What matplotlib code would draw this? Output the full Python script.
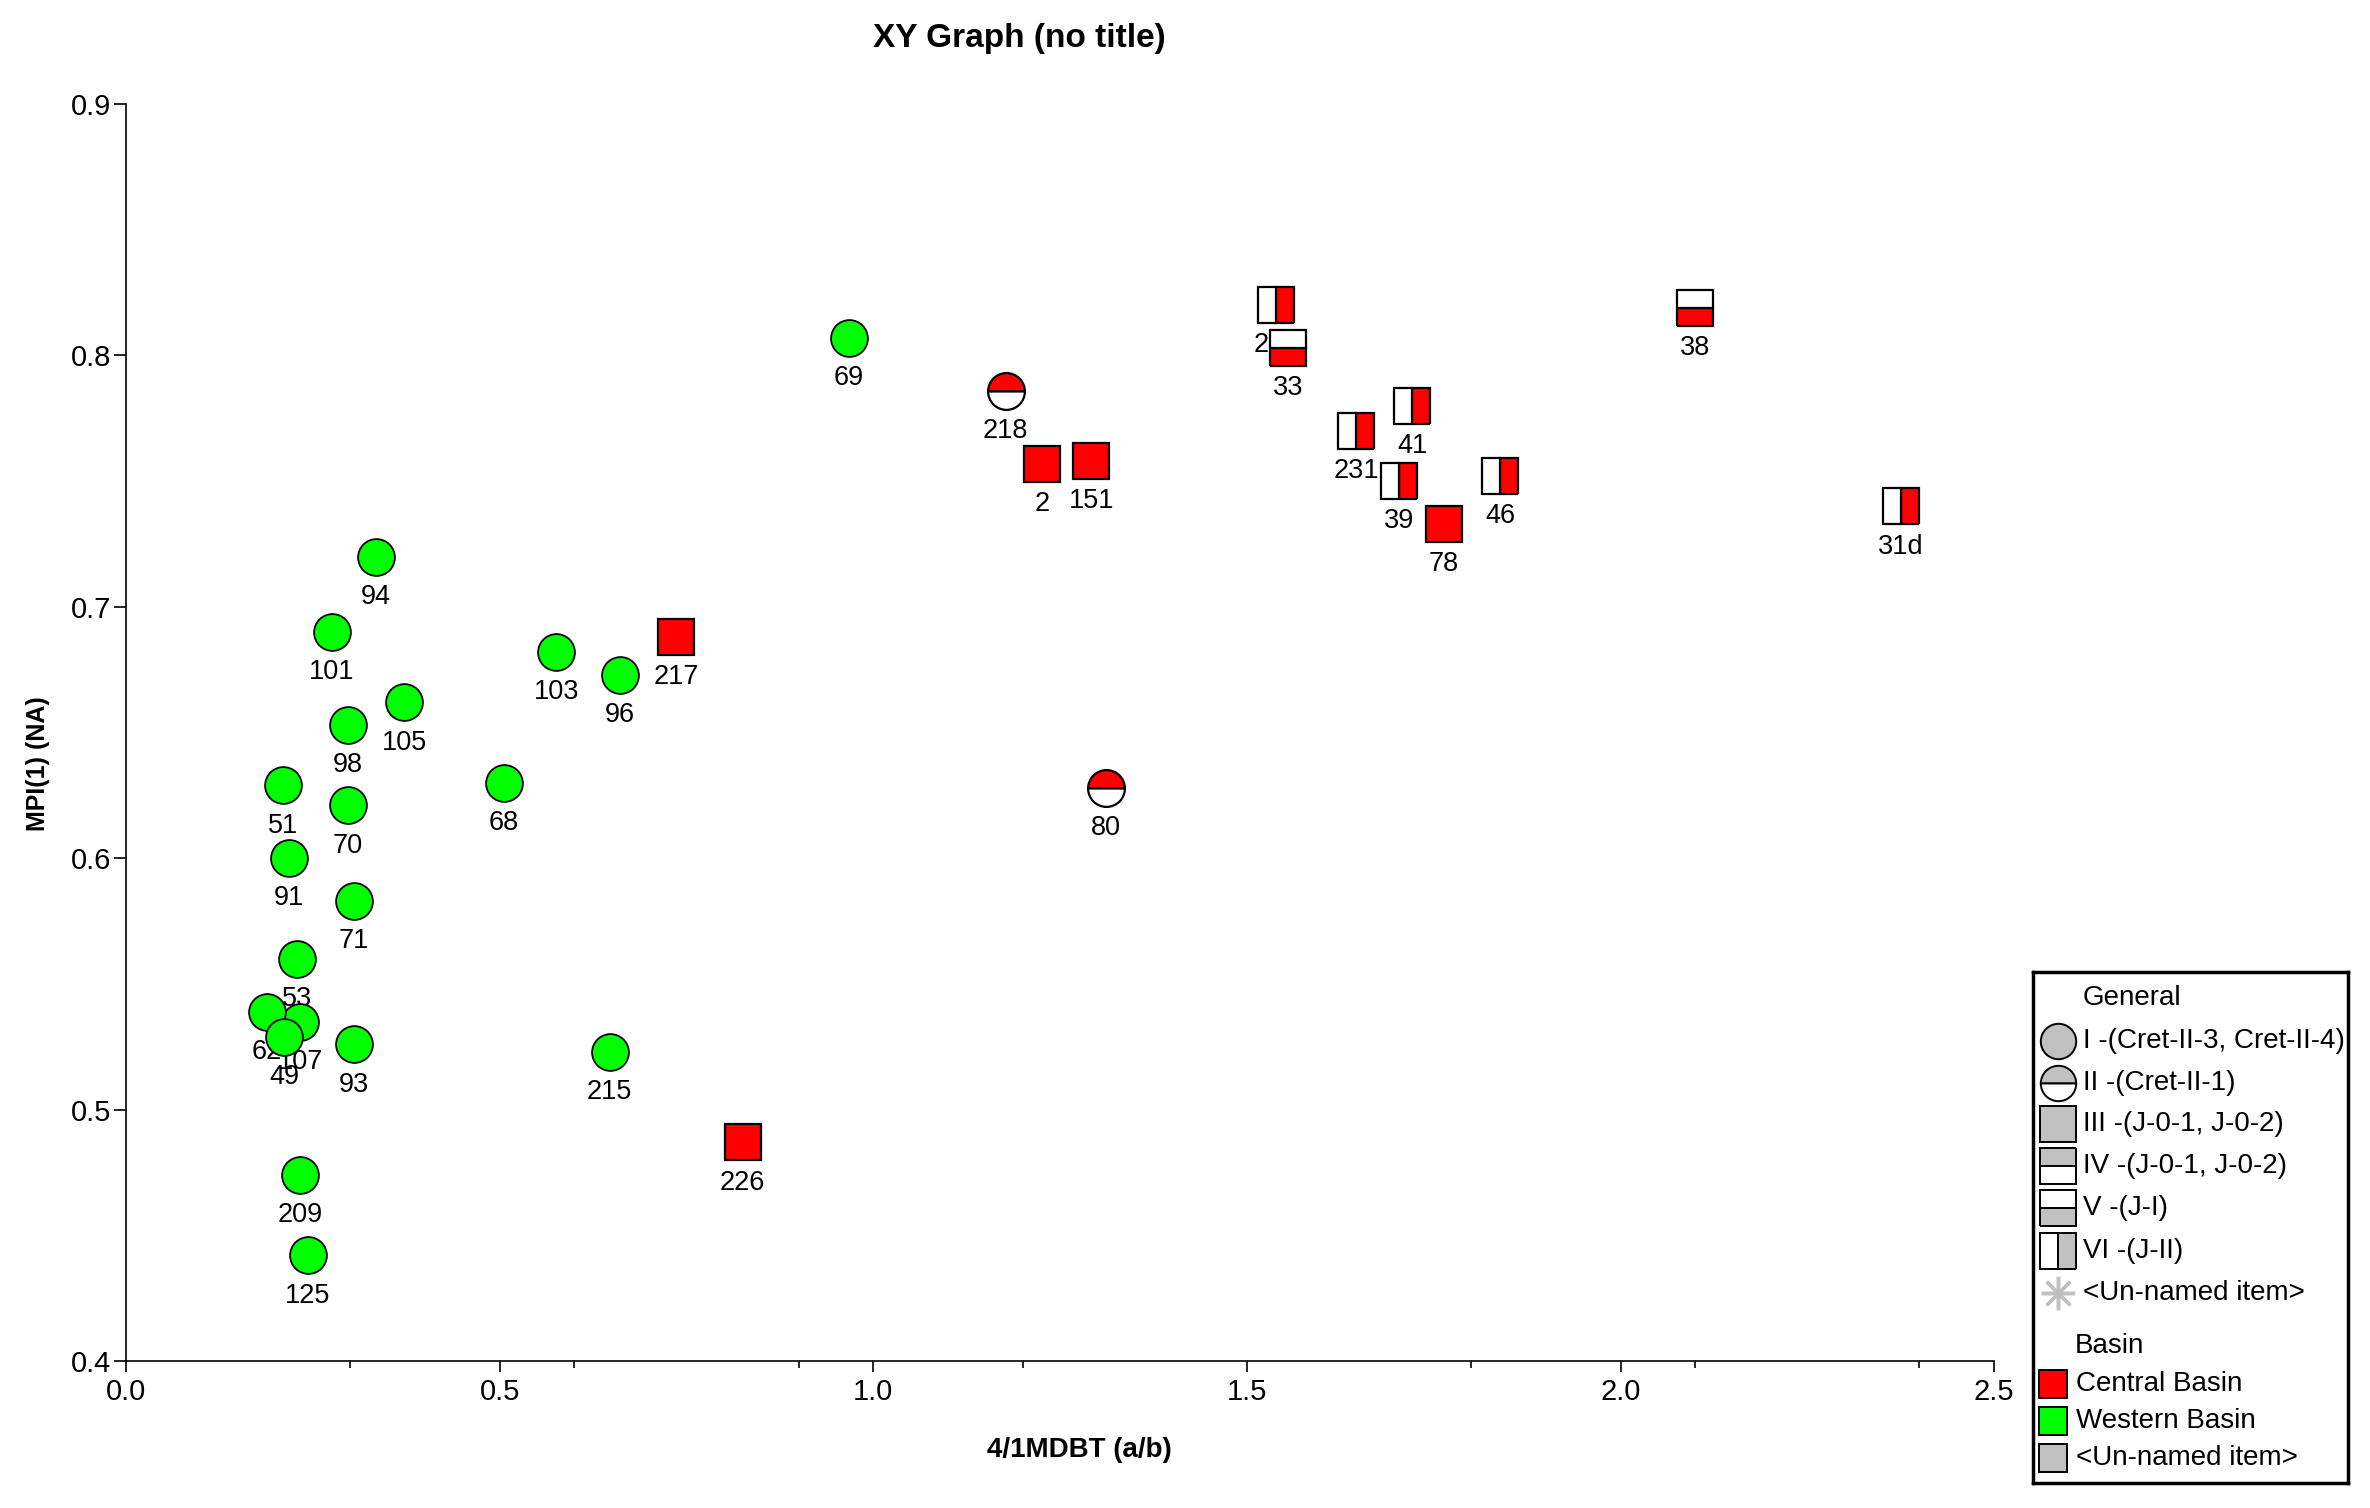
import matplotlib.pyplot as plt
import numpy as np
from matplotlib.ticker import MultipleLocator, FixedLocator

plt.rcParams['font.family'] = ['Liberation Sans', 'DejaVu Sans']

# Western Basin, group I (full circles)
west_ids = ['69', '94', '101', '105', '98', '103', '96', '68', '51', '70',
            '91', '71', '53', '107', '62', '49', '93', '215', '209', '125']
west_x = [0.967, 0.334, 0.275, 0.372, 0.297, 0.576, 0.661, 0.506, 0.210, 0.297,
          0.218, 0.305, 0.229, 0.233, 0.188, 0.212, 0.305, 0.647, 0.233, 0.243]
west_y = [0.807, 0.720, 0.690, 0.662, 0.653, 0.682, 0.673, 0.630, 0.629, 0.621,
          0.600, 0.583, 0.560, 0.535, 0.539, 0.529, 0.526, 0.523, 0.474, 0.442]

# Central Basin, group III (full squares)
c3_ids = ['217', '2', '151', '78', '226']
c3_x = [0.736, 1.226, 1.292, 1.764, 0.825]
c3_y = [0.688, 0.757, 0.758, 0.733, 0.487]

# Central Basin, group II (half circles)
c2_ids = ['218', '80']
c2_x = [1.177, 1.311]
c2_y = [0.786, 0.628]

# Central Basin, group VI (left/right squares)
c6_ids = ['2', '231', '41', '39', '46', '31d']
c6_x = [1.539, 1.646, 1.721, 1.703, 1.839, 2.375]
c6_y = [0.820, 0.770, 0.780, 0.750, 0.752, 0.740]

# Central Basin, group V (top/bottom squares)
c5_ids = ['33', '38']
c5_x = [1.555, 2.100]
c5_y = [0.803, 0.819]

red = '#ff0000'
green = '#00ff00'
grey = '#c0c0c0'
ms = 26.5

fig = plt.figure(figsize=(23.7, 15.08), dpi=100)
ax = fig.add_axes([0.0532, 0.0975, 0.7882, 0.8335])

ax.plot(west_x, west_y, 'o', ms=ms, mfc=green, mec='black', mew=1.3, ls='none', zorder=3)
ax.plot(c3_x, c3_y, 's', ms=ms, mfc=red, mec='black', mew=1.6, ls='none', zorder=3)
ax.plot(c2_x, c2_y, 'o', ms=ms, mfc=red, mfcalt='white', fillstyle='top',
        mec='black', mew=1.6, ls='none', zorder=3)
ax.plot(c6_x, c6_y, 's', ms=ms, mfc=red, mfcalt='white', fillstyle='right',
        mec='black', mew=1.6, ls='none', zorder=3)
ax.plot(c5_x, c5_y, 's', ms=ms, mfc=red, mfcalt='white', fillstyle='bottom',
        mec='black', mew=1.6, ls='none', zorder=4)

for ids, xs, ys in [(west_ids, west_x, west_y), (c3_ids, c3_x, c3_y),
                    (c2_ids, c2_x, c2_y), (c6_ids, c6_x, c6_y), (c5_ids, c5_x, c5_y)]:
    for name, x, y in zip(ids, xs, ys):
        dx = 0
        if name == '2' and ids is c6_ids:
            dx = -11
        ax.annotate(name, (x, y), xytext=(dx, -29), textcoords='offset points',
                    ha='center', va='center', fontsize=19.5, zorder=2)

ax.set_xlim(0, 2.5)
ax.set_ylim(0.4, 0.9)
ax.xaxis.set_major_locator(MultipleLocator(0.5))
ax.xaxis.set_minor_locator(FixedLocator([0.3, 0.6, 0.9, 1.2, 1.8, 2.1, 2.4]))
ax.yaxis.set_major_locator(MultipleLocator(0.1))
ax.xaxis.set_major_formatter(plt.FormatStrFormatter('%.1f'))
ax.yaxis.set_major_formatter(plt.FormatStrFormatter('%.1f'))
ax.tick_params(axis='x', which='major', length=8, width=1.2, labelsize=21, pad=4)
ax.tick_params(axis='x', which='minor', length=5, width=1.2)
ax.tick_params(axis='y', which='major', length=8.5, width=1.2, labelsize=21, pad=2)
for s in ['top', 'right']:
    ax.spines[s].set_visible(False)
for s in ['left', 'bottom']:
    ax.spines[s].set_linewidth(1.2)

fig.text(1079 / 2370, 1 - 1450 / 1508, '4/1MDBT (a/b)', fontsize=20,
         fontweight='bold', ha='center', va='center')
fig.text(38 / 2370, 1 - 764 / 1508, 'MPI(1) (NA)', fontsize=18, fontweight='bold',
         ha='center', va='center', rotation=90)
fig.text(1019 / 2370, 1 - 38 / 1508, 'XY Graph (no title)', fontsize=24,
         fontweight='bold', ha='center', va='center')

# legend box, coordinates in box pixels (315 wide, 511 tall)
lg = fig.add_axes([2033 / 2370, 1 - 1483 / 1508, 315 / 2370, 511 / 1508])
lg.set_xlim(0, 315)
lg.set_ylim(511, 0)
lg.set_xticks([])
lg.set_yticks([])
for s in lg.spines.values():
    s.set_linewidth(2.5)

lg.text(50, 26, 'General', fontsize=20, va='center')
gen_labels = ['I -(Cret-II-3, Cret-II-4)', 'II -(Cret-II-1)', 'III -(J-0-1, J-0-2)',
              'IV -(J-0-1, J-0-2)', 'V -(J-I)', 'VI -(J-II)', '<Un-named item>']
gen_y = [69, 111, 152, 194, 236, 279, 321]
mk = [dict(marker='o'), dict(marker='o', fillstyle='top'), dict(marker='s'),
      dict(marker='s', fillstyle='top'), dict(marker='s', fillstyle='bottom'),
      dict(marker='s', fillstyle='right')]
for k, y in zip(mk, gen_y[:6]):
    lg.plot([25], [y], ls='none', ms=25.5, mfc=grey, mfcalt='white', mec='black', mew=1.4, **k)
lg.plot([25], [gen_y[6]], ls='none', marker=(8, 2, 0), ms=24, mec=grey, mew=2.5)
for lab, y in zip(gen_labels, gen_y):
    lg.text(50, y, lab, fontsize=20, va='center')

lg.text(42, 374, 'Basin', fontsize=20, va='center')
basin_labels = ['Central Basin', 'Western Basin', '<Un-named item>']
basin_cols = [red, green, grey]
basin_y = [412, 449, 486]
for lab, c, y in zip(basin_labels, basin_cols, basin_y):
    lg.plot([20], [y], 's', ms=19.5, mfc=c, mec='black', mew=1.4)
    lg.text(43, y, lab, fontsize=20, va='center')

fig.savefig('out.png', dpi=100)
